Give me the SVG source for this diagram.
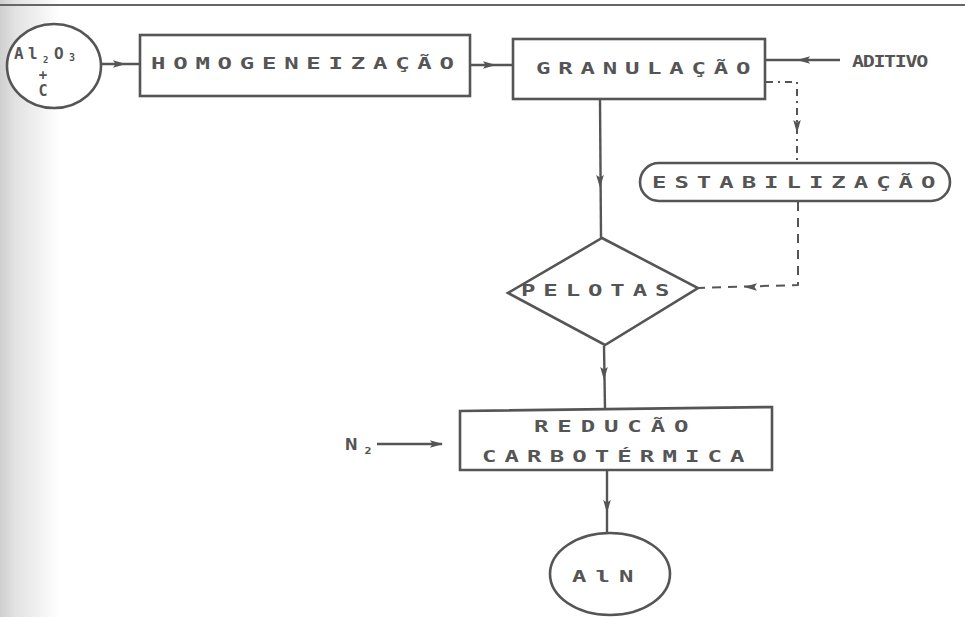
<svg xmlns="http://www.w3.org/2000/svg" width="965" height="617" viewBox="0 0 965 617">
<defs>
<linearGradient id="edge" x1="0" y1="0" x2="1" y2="0">
<stop offset="0" stop-color="#cfcfcf"/>
<stop offset="0.25" stop-color="#e2e2e2"/>
<stop offset="1" stop-color="#ffffff"/>
</linearGradient>
<path id="ah" d="M0,0 L-13,-3.8 L-10.5,0 L-13,3.8 Z" fill="#555"/>
<style>
.ln{fill:none;stroke:#555;stroke-width:2.4;stroke-linejoin:round}
.sh{fill:#fff;stroke:#555;stroke-width:2.6}
.t{font-family:"DejaVu Sans Mono","Liberation Mono",monospace;font-size:16px;font-weight:bold;fill:#555}
.dash{stroke-dasharray:9 7;stroke-width:2}
.dd{stroke-dasharray:7 5 2 5;stroke-width:2}
</style>
</defs>
<rect x="0" y="0" width="965" height="617" fill="#fff"/>
<rect x="0" y="0" width="60" height="617" fill="url(#edge)"/>
<line x1="0" y1="5" x2="965" y2="5" stroke="#666" stroke-width="2"/>

<g id="connectors">
<path class="ln" d="M101,64 L140,64"/>
<use href="#ah" transform="translate(126,64)"/>
<path class="ln" d="M470,65 L513,65"/>
<use href="#ah" transform="translate(496,65)"/>
<path class="ln" d="M840,60 L765,60"/>
<use href="#ah" transform="translate(797,60) rotate(180)"/>
<path class="ln dd" d="M766,82 L797,82 L797,163"/>
<use href="#ah" transform="translate(797,133) rotate(90)"/>
<path class="ln" d="M600,100 L601,238"/>
<use href="#ah" transform="translate(600,188) rotate(90)"/>
<path class="ln dash" d="M798,202 L798,285 L698,288"/>
<use href="#ah" transform="translate(744,287) rotate(180)"/>
<path class="ln" d="M604,346 L605,409"/>
<use href="#ah" transform="translate(604,380) rotate(90)"/>
<path class="ln" d="M377,444 L442,444"/>
<use href="#ah" transform="translate(443,444)"/>
<path class="ln" d="M607,471 L607,533"/>
<use href="#ah" transform="translate(607,513) rotate(90)"/>
</g>

<g id="n-al2o3">
<ellipse class="sh" cx="54" cy="66" rx="47" ry="42"/>
<text class="t" font-size="15"><tspan x="14" y="59">A</tspan><tspan x="28" y="59">l</tspan><tspan x="43" y="63" font-size="9">2</tspan><tspan x="54" y="59">O</tspan><tspan x="69" y="61" font-size="10">3</tspan></text>
<text class="t" text-anchor="middle"><tspan x="43" y="80" font-size="14">+</tspan><tspan x="43" y="96" font-size="15">C</tspan></text>
</g>

<g id="n-homogeneizacao">
<rect class="sh" x="140" y="35" width="330" height="61"/>
<text class="t" transform="translate(151,69) scale(1.5,1)" textLength="202" lengthAdjust="spacing">HOMOGENEIZAÇÃO</text>
</g>

<g id="n-granulacao">
<rect class="sh" x="513" y="39" width="252" height="60"/>
<text class="t" transform="translate(536,74) scale(1.5,1)" textLength="143" lengthAdjust="spacing">GRANULAÇÃO</text>
</g>

<g id="n-aditivo">
<text class="t" transform="translate(852,67) scale(1.25,1)" font-size="13" textLength="61" lengthAdjust="spacing">ADITIVO</text>
</g>

<g id="n-estabilizacao">
<rect class="sh" x="640" y="163" width="310" height="38" rx="19" ry="19"/>
<text class="t" transform="translate(652,188) scale(1.5,1)" textLength="189" lengthAdjust="spacing">ESTABILIZAÇÃO</text>
</g>

<g id="n-pelotas">
<polygon class="sh" points="602,238 698,288 605,345 508,293"/>
<text class="t" transform="translate(521,296) scale(1.5,1)" textLength="99" lengthAdjust="spacing">PELOTAS</text>
</g>

<g id="n-n2">
<text class="t" transform="translate(345,450) scale(1.3,1)" font-size="14">N<tspan x="15" y="4" font-size="9">2</tspan></text>
</g>

<g id="n-reducao">
<path class="sh" d="M460,411 L772,407 L772,470 L460,470 Z"/>
<text class="t" transform="translate(534,432) scale(1.5,1)" font-size="15" textLength="103" lengthAdjust="spacing">REDUCÃO</text>
<text class="t" transform="translate(482,462) scale(1.5,1)" font-size="15" textLength="175" lengthAdjust="spacing">CARBOTÉRMICA</text>
</g>

<g id="n-aln">
<ellipse class="sh" cx="610" cy="574" rx="60" ry="41"/>
<text class="t" transform="translate(572,582) scale(1.5,1)" textLength="41" lengthAdjust="spacing">AlN</text>
</g>
</svg>
